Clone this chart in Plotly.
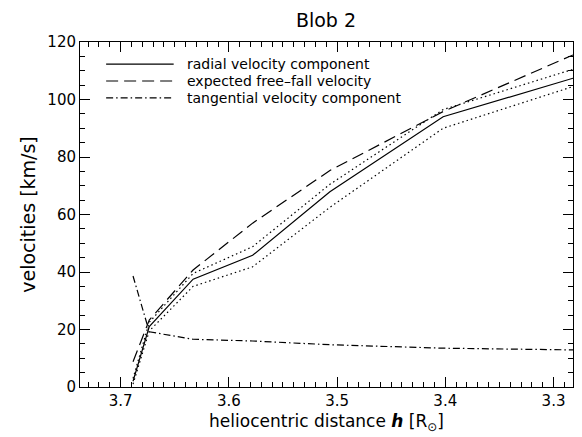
import plotly.graph_objects as go

# heliocentric distance [R_sun]
h = [3.6885, 3.6735, 3.633, 3.578, 3.5066, 3.402, 3.282]
radial = [2.0, 21.0, 37.5, 45.8, 67.9, 94.0, 107.4]
radial_upper = [3.0, 22.5, 39.5, 48.8, 70.5, 96.5, 110.5]
radial_lower = [1.0, 19.5, 35.0, 41.8, 62.5, 90.0, 104.5]
freefall = [8.8, 23.3, 40.7, 57.0, 75.3, 95.8, 115.5]
tangential = [38.6, 19.2, 16.6, 16.0, 14.7, 13.5, 12.9]

x_ticks = [3.7, 3.6, 3.5, 3.4, 3.3]
y_ticks = [0, 20, 40, 60, 80, 100, 120]

legend_labels = ["radial velocity component",
                 "expected free\u2013fall velocity",
                 "tangential velocity component"]
legend_dashes = ["solid", "12px,6px", "7px,3px,1.5px,3px"]

FONT = "DejaVu Sans"
LW = 1.2
fig = go.Figure()

fig.add_trace(go.Scatter(x=h, y=radial, mode="lines", name=legend_labels[0], showlegend=False,
                         line=dict(color="black", width=LW, dash=legend_dashes[0])))
fig.add_trace(go.Scatter(x=h, y=freefall, mode="lines", name=legend_labels[1], showlegend=False,
                         line=dict(color="black", width=LW, dash=legend_dashes[1])))
fig.add_trace(go.Scatter(x=h, y=tangential, mode="lines", name=legend_labels[2], showlegend=False,
                         line=dict(color="black", width=LW, dash=legend_dashes[2])))
fig.add_trace(go.Scatter(x=h, y=radial_upper, mode="lines", showlegend=False,
                         line=dict(color="black", width=LW, dash="1.5px,3px")))
fig.add_trace(go.Scatter(x=h, y=radial_lower, mode="lines", showlegend=False,
                         line=dict(color="black", width=LW, dash="1.5px,3px")))

# manual legend (paper coordinates)
leg_rows = [0.936, 0.887, 0.838]
for lab, dsh, yy in zip(legend_labels, legend_dashes, leg_rows):
    fig.add_shape(type="line", xref="paper", yref="paper", x0=0.053, x1=0.190, y0=yy, y1=yy,
                  line=dict(color="black", width=LW, dash=dsh))
    fig.add_annotation(xref="paper", yref="paper", x=0.213, y=yy, text=lab, showarrow=False,
                       xanchor="left", yanchor="middle",
                       font=dict(family=FONT, size=14, color="black"))

axis_common = dict(
    showgrid=False, zeroline=False, showline=True, linecolor="black", linewidth=1,
    ticks="inside", mirror="ticks", tickcolor="black", ticklen=10, tickwidth=1,
    tickfont=dict(family=FONT, size=15, color="black"),
)

fig.update_xaxes(
    range=[3.7375, 3.282], tickvals=x_ticks, ticktext=[f"{v:.1f}" for v in x_ticks],
    minor=dict(ticks="inside", dtick=0.01, ticklen=5, tickcolor="black", showgrid=False),
    title=dict(text="heliocentric distance <b><i>h</i></b> [R<sub>\u2299</sub>]",
               font=dict(family=FONT, size=17, color="black"), standoff=6),
    **axis_common,
)
fig.update_yaxes(
    range=[0, 120], tickvals=y_ticks,
    minor=dict(ticks="inside", dtick=5, ticklen=5, tickcolor="black", showgrid=False),
    title=dict(text="velocities [km/s]", font=dict(family=FONT, size=19, color="black"), standoff=6),
    **axis_common,
)

fig.update_layout(
    width=574, height=429,
    margin=dict(l=72, r=9, t=34, b=50),
    paper_bgcolor="white", plot_bgcolor="white",
    title=dict(text="Blob 2", x=0.554, xanchor="center", y=0.972, yanchor="middle",
               font=dict(family=FONT, size=19, color="black")),
    showlegend=False,
)

fig.write_html("out.html")
